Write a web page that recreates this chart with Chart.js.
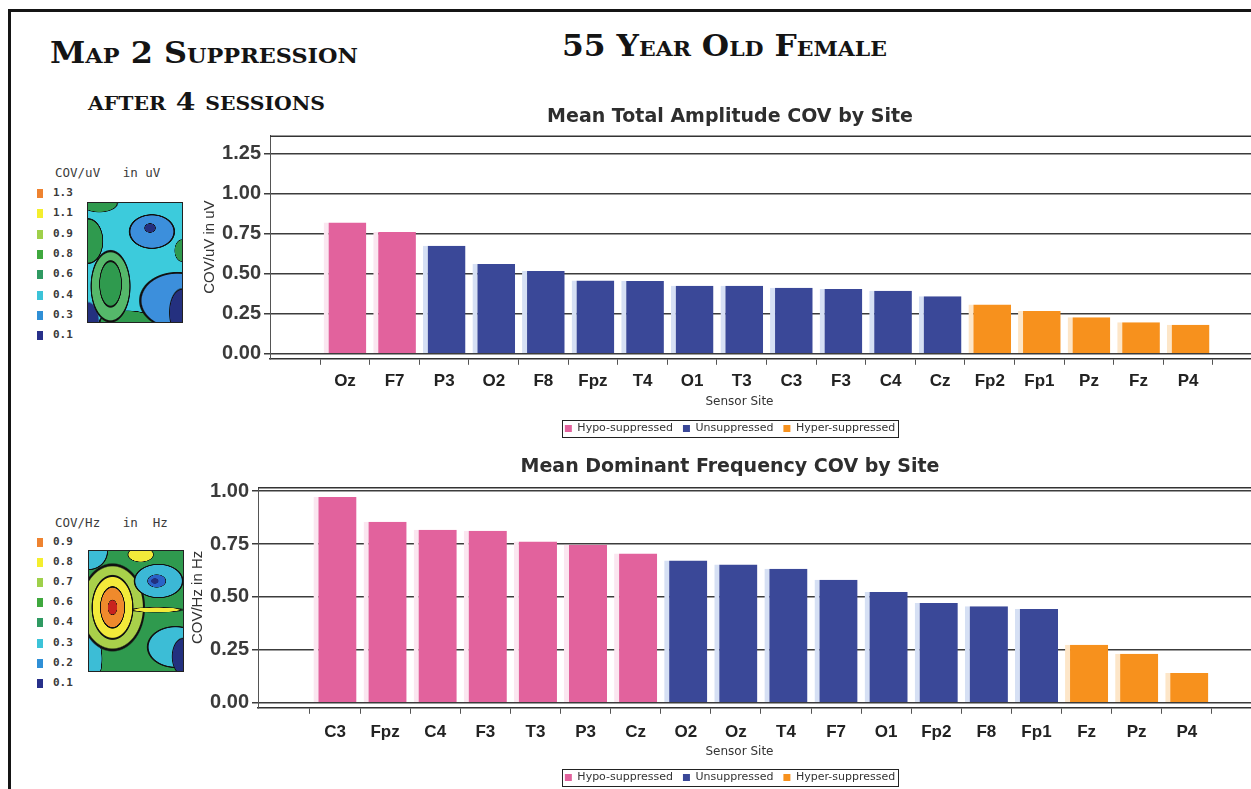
<!DOCTYPE html>
<html>
<head>
<meta charset="utf-8">
<title>Map 2 Suppression</title>
<script src="https://cdn.jsdelivr.net/npm/chart.js@4.4.1/dist/chart.umd.min.js"></script>
<style>
  html, body { margin: 0; padding: 0; background: #fff; }
  body { width: 1251px; height: 789px; overflow: hidden; position: relative; }
  #frame { position: absolute; left: 8px; top: 9px; width: 1400px; height: 1000px; border: 3px solid #151515; }
  .hdr { position: absolute; white-space: nowrap; font-family: "DejaVu Serif", serif; font-weight: bold;
         font-variant: small-caps; color: #141414; line-height: 1; transform-origin: 0 0; }
  #h1 { left: 50px; top: 38px; font-size: 30px; }
  #h2 { left: 88px; top: 89px; font-size: 25px; }
  #h3 { left: 562px; top: 31px; font-size: 30px; }
  .key { position: absolute; font-family: "DejaVu Sans Mono", monospace; color: #3a3a3a; white-space: pre; }
  .key.ttl { font-size: 12.5px; }
  .key.val { font-size: 11px; font-weight: bold; }
  .sw { position: absolute; width: 6px; height: 9px; }
  .topo { position: absolute; box-sizing: border-box; border: 1px solid #222; }
  #topo1 { left: 87px; top: 202px; width: 96px; height: 121px;
    background:
      radial-gradient(6px 5px at 66% 21%, #24307f 0 85%, #111 90%, transparent 100%),
      radial-gradient(24px 18px at 68% 24%, #3c8fdc 0 88%, #111 91% 95%, transparent 98%),
      radial-gradient(12px 25px at 24% 68%, #2f9a4e 0 85%, #111 89% 93%, transparent 97%),
      radial-gradient(21px 38px at 24% 70%, #55b86a 0 88%, #111 91% 94%, transparent 97%),
      radial-gradient(16px 24px at 0% 32%, #2f9a4e 0 88%, #111 91% 94%, transparent 97%),
      radial-gradient(12px 22px at 0% 100%, #24307f 0 85%, transparent 95%),
      radial-gradient(14px 26px at 100% 92%, #24307f 0 85%, #111 89%, transparent 96%),
      radial-gradient(40px 30px at 95% 82%, #3c8fdc 0 88%, #111 91% 94%, transparent 97%),
      radial-gradient(30px 12px at 42% 100%, #2f9a4e 0 88%, #111 91% 94%, transparent 97%),
      radial-gradient(8px 12px at 100% 40%, #2f9a4e 0 85%, #111 90%, transparent 97%),
      radial-gradient(20px 10px at 12% 0%, #2f9a4e 0 85%, #111 90%, transparent 97%),
      #3ccbdc; }
  #topo2 { left: 88px; top: 550px; width: 96px; height: 122px;
    background:
      radial-gradient(5px 8px at 25% 47%, #c8231e 0 85%, #111 92%, transparent 100%),
      radial-gradient(13px 22px at 25% 47%, #ef8a2c 0 88%, #111 91% 95%, transparent 98%),
      radial-gradient(22px 34px at 25% 47%, #f3ea3a 0 88%, #111 91% 94%, transparent 97%),
      radial-gradient(30px 3px at 72% 49%, #f3ea3a 0 70%, #111 80%, transparent 100%),
      radial-gradient(4px 3px at 70% 25%, #22307f 0 85%, transparent 100%),
      radial-gradient(10px 7px at 72% 25%, #2a63c8 0 85%, #111 90%, transparent 98%),
      radial-gradient(26px 18px at 74% 25%, #3cb8d6 0 88%, #111 91% 94%, transparent 97%),
      radial-gradient(12px 20px at 100% 88%, #22307f 0 85%, #111 90%, transparent 97%),
      radial-gradient(30px 22px at 92% 80%, #3cbdd6 0 88%, #111 91% 94%, transparent 97%),
      radial-gradient(14px 8px at 55% 3%, #f3ea3a 0 85%, #111 90%, transparent 97%),
      radial-gradient(34px 46px at 25% 47%, #a9d04a 0 88%, #111 91% 94%, transparent 97%),
      radial-gradient(20px 20px at 0% 0%, #3cbdd6 0 88%, #111 91% 94%, transparent 97%),
      radial-gradient(14px 30px at 0% 90%, #3cbdd6 0 88%, #111 91% 94%, transparent 97%),
      #2f9a4e; }
  .wrap { position: absolute; }
  #w1 { left: 190px; top: 101px; width: 1080px; height: 343px; }
  #w2 { left: 178px; top: 451px; width: 1104px; height: 342px; }
</style>
</head>
<body>
<div id="frame"></div>
<div class="hdr" id="h1" data-w="308">Map 2 Suppression</div>
<div class="hdr" id="h2" data-w="237">after 4 sessions</div>
<div class="hdr" id="h3" data-w="325">55 Year Old Female</div>

<div class="topo" id="topo1"></div>
<div class="topo" id="topo2"></div>
<div id="keys"></div>

<div class="wrap" id="w1"><canvas id="chart-amp"></canvas></div>
<div class="wrap" id="w2"><canvas id="chart-freq"></canvas></div>

<script>
// --- data ---
const sitesAmp  = ['Oz', 'F7', 'P3', 'O2', 'F8', 'Fpz', 'T4', 'O1', 'T3', 'C3', 'F3', 'C4', 'Cz', 'Fp2', 'Fp1', 'Pz', 'Fz', 'P4'];
const covAmp    = [0.82, 0.76, 0.675, 0.56, 0.517, 0.458, 0.455, 0.425, 0.425, 0.413, 0.405, 0.393, 0.36, 0.308, 0.267, 0.228, 0.197, 0.182];
const groupAmp  = [0, 0, 1, 1, 1, 1, 1, 1, 1, 1, 1, 1, 1, 2, 2, 2, 2, 2];

const sitesFreq = ['C3', 'Fpz', 'C4', 'F3', 'T3', 'P3', 'Cz', 'O2', 'Oz', 'T4', 'F7', 'O1', 'Fp2', 'F8', 'Fp1', 'Fz', 'Pz', 'P4'];
const covFreq   = [0.973, 0.856, 0.818, 0.813, 0.762, 0.747, 0.706, 0.673, 0.653, 0.634, 0.581, 0.523, 0.471, 0.456, 0.443, 0.274, 0.231, 0.14];
const groupFreq = [0, 0, 0, 0, 0, 0, 0, 1, 1, 1, 1, 1, 1, 1, 1, 2, 2, 2];

const groupNames = ['Hypo-suppressed', 'Unsuppressed', 'Hyper-suppressed'];
const ampTicks   = [0, 0.25, 0.5, 0.75, 1, 1.25];
const freqTicks  = [0, 0.25, 0.5, 0.75, 1];

// topo map colour keys
const ampKeyLabels  = ['1.3', '1.1', '0.9', '0.8', '0.6', '0.4', '0.3', '0.1'];
const freqKeyLabels = ['0.9', '0.8', '0.7', '0.6', '0.4', '0.3', '0.2', '0.1'];
const keyColors = ['#ee8330', '#f4ee2e', '#9fd04a', '#3fa83e', '#2f9a62', '#3cc3d8', '#2f8fd6', '#27308a'];

// --- styles ---
const fillCol   = ['#e2629d', '#3a4898', '#f7911d'];
const stripeCol = ['#fbe6f0', '#d6e0f4', '#fde6c8'];
const ARIAL = '"Liberation Sans", Arial, sans-serif';
const TAHOMA = '"DejaVu Sans", Verdana, sans-serif';

function el(id) { return document.getElementById(id); }

function buildKey(title, labels, x, titleY, firstY, step) {
  const box = el('keys');
  const t = document.createElement('div');
  t.className = 'key ttl';
  t.textContent = title;
  t.style.left = x + 'px'; t.style.top = (titleY - 8) + 'px';
  box.appendChild(t);
  labels.forEach((lab, i) => {
    const y = firstY + i * step;
    const sw = document.createElement('div');
    sw.className = 'sw';
    sw.style.left = '37px'; sw.style.top = (y - 4) + 'px';
    sw.style.background = keyColors[i];
    box.appendChild(sw);
    const v = document.createElement('div');
    v.className = 'key val';
    v.textContent = lab;
    v.style.left = '53px'; v.style.top = (y - 7) + 'px';
    box.appendChild(v);
  });
}

const frameLine = {
  id: 'frameLine',
  beforeDatasetsDraw(chart) {
    const { ctx, chartArea: a } = chart;
    ctx.save();
    ctx.strokeStyle = '#333'; ctx.lineWidth = 1.5;
    ctx.beginPath(); ctx.moveTo(a.left, a.top + 0.75); ctx.lineTo(a.right, a.top + 0.75); ctx.stroke();
    ctx.restore();
  }
};

const legendFrame = {
  id: 'legendFrame',
  afterDraw(chart) {
    const boxes = chart.legend && chart.legend.legendHitBoxes;
    if (!boxes || !boxes.length) return;
    const left = Math.min(...boxes.map(b => b.left)) - 3;
    const right = Math.max(...boxes.map(b => b.left + b.width)) + 3;
    const top = boxes[0].top - 3;
    const ctx = chart.ctx;
    ctx.save();
    ctx.strokeStyle = '#222'; ctx.lineWidth = 1;
    ctx.strokeRect(Math.round(left) + 0.5, Math.round(top) + 0.5, Math.round(right - left), boxes[0].height + 6);
    ctx.restore();
  }
};

function makeChart(c) {
  return new Chart(el(c.id), {
    type: 'bar',
    data: { datasets: [{
      data: c.vals.map((v, i) => ({ x: i, y: v })),
      backgroundColor: c.groups.map(g => fillCol[g]),
      borderColor: c.groups.map(g => stripeCol[g]),
      borderWidth: { left: 5, top: 0, right: 0, bottom: 0 },
      borderSkipped: false,
      grouped: false,
      categoryPercentage: 1, barPercentage: 0.86,
      clip: false,
    }] },
    options: {
      responsive: true, maintainAspectRatio: false, animation: false,
      devicePixelRatio: 1,
      plugins: {
        title: { display: true, text: c.title, color: '#2e2e2e',
                 font: { family: TAHOMA, size: 19, weight: 'bold' }, padding: { top: 5, bottom: c.titleGap } },
        legend: { position: 'bottom', onClick: null,
          labels: { color: '#333', font: { family: TAHOMA, size: 11 }, boxWidth: 7, boxHeight: 7, padding: 10,
            generateLabels: () => groupNames.map((t, g) => ({ text: t, fillStyle: fillCol[g], strokeStyle: fillCol[g],
              lineWidth: 0, hidden: false, datasetIndex: 0, fontColor: '#333' })) } },
        tooltip: { enabled: false },
      },
      scales: {
        x: { type: 'linear', min: c.xMin, max: c.xMax, offset: false,
          afterBuildTicks: a => { a.ticks = c.sites.map((_, i) => ({ value: i })); },
          ticks: { autoSkip: false, maxRotation: 0, padding: c.tickPad, color: '#222',
                   font: { family: ARIAL, size: 17, weight: 'bold', lineHeight: 1 }, callback: v => c.sites[v] },
          grid: { drawOnChartArea: false, drawTicks: true, tickLength: 6, color: '#555' },
          border: { display: true, color: '#333', width: 1.5 },
          // trailing spaces shift the centred title left to where the original sits
          title: { display: true, text: 'Sensor Site' + '\u00a0'.repeat(16), color: '#333',
                   font: { family: TAHOMA, size: 12 }, padding: { top: c.xTitleTop, bottom: c.xTitleBottom } } },
        y: { min: c.yMin, max: c.yMax,
          afterFit: s => { s.width = 80; },
          afterBuildTicks: a => { a.ticks = c.yTicks.map(v => ({ value: v })); },
          ticks: { padding: 3, color: '#3a3a3a', font: { family: ARIAL, size: 20, weight: 'bold' },
                   callback: v => v.toFixed(2) },
          grid: { color: '#3c3c3c', lineWidth: 1.5, tickLength: 6, drawTicks: true },
          border: { display: true, color: '#555', width: 1 },
          title: { display: true, text: c.yTitle, color: '#333', font: { family: ARIAL, size: 15 },
                   padding: { top: 11, bottom: 0 } } },
      },
    },
    plugins: [frameLine, legendFrame],
  });
}

function fitHeaders() {
  document.querySelectorAll('.hdr').forEach(h => {
    const w = h.getBoundingClientRect().width;
    h.style.transform = `scaleX(${Number(h.dataset.w) / w})`;
  });
}

fitHeaders();
buildKey('COV/uV   in uV', ampKeyLabels, 55, 173, 193, 20.3);
buildKey('COV/Hz   in  Hz', freqKeyLabels, 55, 523, 542, 20.1);

makeChart({ id: 'chart-amp', sites: sitesAmp, vals: covAmp, groups: groupAmp,
  title: 'Mean Total Amplitude COV by Site', yTitle: 'COV/uV in uV', yTicks: ampTicks,
  yMin: -0.031, yMax: 1.363, xMin: -1.512, xMax: 18.65,
  tickPad: 8.5, xTitleTop: -4.2, xTitleBottom: 4, titleGap: 6.6 });

makeChart({ id: 'chart-freq', sites: sitesFreq, vals: covFreq, groups: groupFreq,
  title: 'Mean Dominant Frequency COV by Site', yTitle: 'COV/Hz in Hz', yTicks: freqTicks,
  yMin: -0.024, yMax: 1.02, xMin: -1.537, xMax: 18.9,
  tickPad: 10.5, xTitleTop: -7.2, xTitleBottom: 3, titleGap: 8.2 });
</script>
</body>
</html>
